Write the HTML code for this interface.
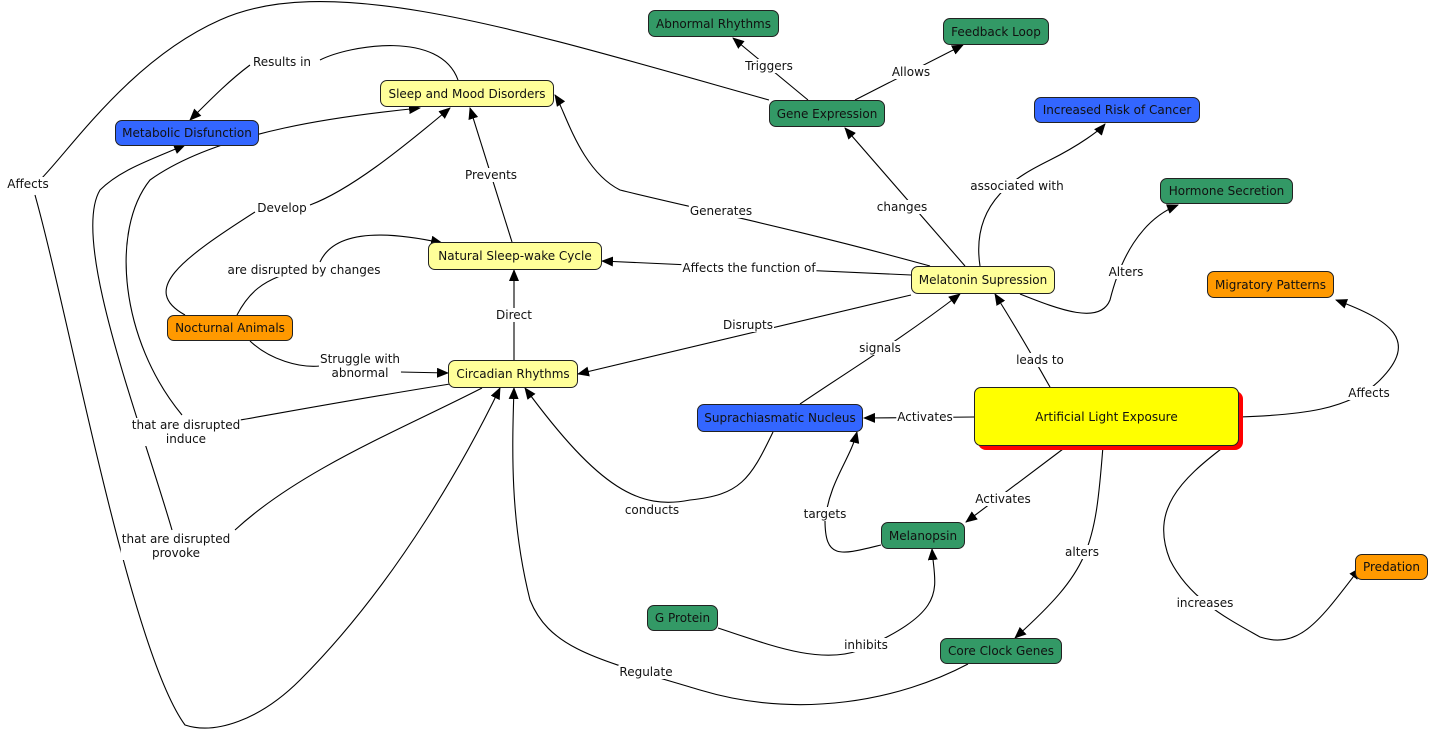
<!DOCTYPE html>
<html><head><meta charset="utf-8"><style>
body{margin:0;width:1429px;height:732px;background:#fff;position:relative;overflow:hidden;font-family:"DejaVu Sans","Liberation Sans",sans-serif;}
.n{position:absolute;box-sizing:border-box;border:1px solid #222;border-radius:7px;display:flex;align-items:center;justify-content:center;font-size:12px;color:#111;white-space:nowrap}
.y{background:#ffff99}.b{background:#3366ff}.g{background:#339966}.o{background:#ff9900}
.l{position:absolute;background:#fff;font-size:12px;color:#111;transform:translate(-50%,-50%);white-space:nowrap;text-align:center;line-height:14px;padding:0 1px}
svg{position:absolute;left:0;top:0}
</style></head><body>
<svg width="1429" height="732" viewBox="0 0 1429 732">
<defs><marker id="a" markerWidth="12" markerHeight="10" refX="11" refY="5" orient="auto" markerUnits="userSpaceOnUse"><path d="M0,0 L12,5 L0,10z" fill="#000"/></marker></defs>
<g fill="none" stroke="#000" stroke-width="1.1">
<path d="M808,100 L733,38" marker-end="url(#a)"/>
<path d="M855,100 L963,45" marker-end="url(#a)"/>
<path d="M769,100 C520,30 330,-30 220,20 C130,60 70,150 40,180"/>
<path d="M35,195 C70,320 130,650 185,725 C215,735 260,720 300,680 C400,580 470,450 500,388" marker-end="url(#a)"/>
<path d="M458,80 C440,30 350,45 320,60"/>
<path d="M250,65 C230,80 215,95 190,120" marker-end="url(#a)"/>
<path d="M185,315 C140,290 180,260 255,212"/>
<path d="M310,205 C350,190 400,150 450,108" marker-end="url(#a)"/>
<path d="M237,315 C250,290 265,282 280,276"/>
<path d="M320,262 C330,240 360,225 442,243" marker-end="url(#a)"/>
<path d="M250,341 C270,360 300,368 320,366"/>
<path d="M400,372 L448,373" marker-end="url(#a)"/>
<path d="M512,242 L470,108" marker-end="url(#a)"/>
<path d="M514,360 L514,270" marker-end="url(#a)"/>
<path d="M450,384 C350,400 270,415 240,420"/>
<path d="M182,415 C120,340 110,230 150,180 C220,130 350,115 420,108" marker-end="url(#a)"/>
<path d="M482,388 C400,430 300,470 235,530"/>
<path d="M172,530 C140,420 70,240 100,190 C120,170 150,160 185,145" marker-end="url(#a)"/>
<path d="M930,266 C800,230 680,205 620,190 C580,170 565,110 555,95" marker-end="url(#a)"/>
<path d="M911,275 L602,261" marker-end="url(#a)"/>
<path d="M911,295 L578,374" marker-end="url(#a)"/>
<path d="M965,266 L845,128" marker-end="url(#a)"/>
<path d="M980,266 C970,200 1020,175 1050,160 C1080,145 1100,130 1105,124" marker-end="url(#a)"/>
<path d="M1020,294 C1060,310 1100,325 1110,300 C1120,260 1140,220 1178,205" marker-end="url(#a)"/>
<path d="M800,404 C850,370 900,340 960,294" marker-end="url(#a)"/>
<path d="M1050,387 C1040,370 1030,350 995,294" marker-end="url(#a)"/>
<path d="M974,417 L864,418" marker-end="url(#a)"/>
<path d="M1239,417 C1300,415 1350,410 1380,380 C1420,340 1390,320 1336,300" marker-end="url(#a)"/>
<path d="M1067,446 L966,522" marker-end="url(#a)"/>
<path d="M1103,446 C1095,550 1090,570 1015,638" marker-end="url(#a)"/>
<path d="M1225,446 C1180,480 1150,510 1170,560 C1190,600 1230,620 1260,637 C1300,650 1320,620 1360,568" marker-end="url(#a)"/>
<path d="M881,545 C840,555 825,560 825,520 C830,480 850,460 857,432" marker-end="url(#a)"/>
<path d="M773,432 C750,480 740,495 690,500 C640,510 600,490 525,388" marker-end="url(#a)"/>
<path d="M718,628 C770,645 820,665 860,650 C950,610 935,590 932,549" marker-end="url(#a)"/>
<path d="M968,664 C900,700 800,720 700,690 C600,660 550,650 530,600 C510,520 512,450 514,388" marker-end="url(#a)"/>
</g>
</svg>
<div class="l" style="left:769px;top:66px">Triggers</div>
<div class="l" style="left:911px;top:72px">Allows</div>
<div class="l" style="left:28px;top:184px">Affects</div>
<div class="l" style="left:282px;top:62px">Results in</div>
<div class="l" style="left:282px;top:208px">Develop</div>
<div class="l" style="left:304px;top:270px">are disrupted by changes</div>
<div class="l" style="left:360px;top:366px">Struggle with<br>abnormal</div>
<div class="l" style="left:491px;top:175px">Prevents</div>
<div class="l" style="left:514px;top:315px">Direct</div>
<div class="l" style="left:186px;top:432px">that are disrupted<br>induce</div>
<div class="l" style="left:176px;top:546px">that are disrupted<br>provoke</div>
<div class="l" style="left:721px;top:211px">Generates</div>
<div class="l" style="left:749px;top:268px">Affects the function of</div>
<div class="l" style="left:748px;top:325px">Disrupts</div>
<div class="l" style="left:902px;top:207px">changes</div>
<div class="l" style="left:1017px;top:186px">associated with</div>
<div class="l" style="left:1126px;top:272px">Alters</div>
<div class="l" style="left:880px;top:348px">signals</div>
<div class="l" style="left:1040px;top:360px">leads to</div>
<div class="l" style="left:925px;top:417px">Activates</div>
<div class="l" style="left:1369px;top:393px">Affects</div>
<div class="l" style="left:1003px;top:499px">Activates</div>
<div class="l" style="left:1082px;top:552px">alters</div>
<div class="l" style="left:1205px;top:603px">increases</div>
<div class="l" style="left:825px;top:514px">targets</div>
<div class="l" style="left:652px;top:510px">conducts</div>
<div class="l" style="left:866px;top:645px">inhibits</div>
<div class="l" style="left:646px;top:672px">Regulate</div>

<div class="n g" style="left:648px;top:10px;width:131px;height:27px">Abnormal Rhythms</div>
<div class="n g" style="left:943px;top:18px;width:106px;height:27px">Feedback Loop</div>
<div class="n y" style="left:380px;top:80px;width:174px;height:27px">Sleep and Mood Disorders</div>
<div class="n g" style="left:769px;top:100px;width:116px;height:27px">Gene Expression</div>
<div class="n b" style="left:1034px;top:97px;width:166px;height:26px">Increased Risk of Cancer</div>
<div class="n b" style="left:115px;top:120px;width:144px;height:26px">Metabolic Disfunction</div>
<div class="n g" style="left:1160px;top:178px;width:133px;height:26px">Hormone Secretion</div>
<div class="n y" style="left:428px;top:242px;width:174px;height:28px">Natural Sleep-wake Cycle</div>
<div class="n y" style="left:911px;top:266px;width:144px;height:28px">Melatonin Supression</div>
<div class="n o" style="left:1207px;top:271px;width:127px;height:27px">Migratory Patterns</div>
<div class="n o" style="left:167px;top:315px;width:126px;height:26px">Nocturnal Animals</div>
<div class="n y" style="left:448px;top:360px;width:130px;height:28px">Circadian Rhythms</div>
<div style="position:absolute;left:978px;top:391px;width:265px;height:59px;background:#ff0000;border-radius:8px"></div>
<div class="n" style="left:974px;top:387px;width:265px;height:59px;background:#ffff00">Artificial Light Exposure</div>
<div class="n b" style="left:697px;top:404px;width:166px;height:28px">Suprachiasmatic Nucleus</div>
<div class="n g" style="left:881px;top:522px;width:84px;height:27px">Melanopsin</div>
<div class="n o" style="left:1355px;top:554px;width:73px;height:26px">Predation</div>
<div class="n g" style="left:647px;top:605px;width:71px;height:26px">G Protein</div>
<div class="n g" style="left:940px;top:638px;width:122px;height:26px">Core Clock Genes</div>
</body></html>
